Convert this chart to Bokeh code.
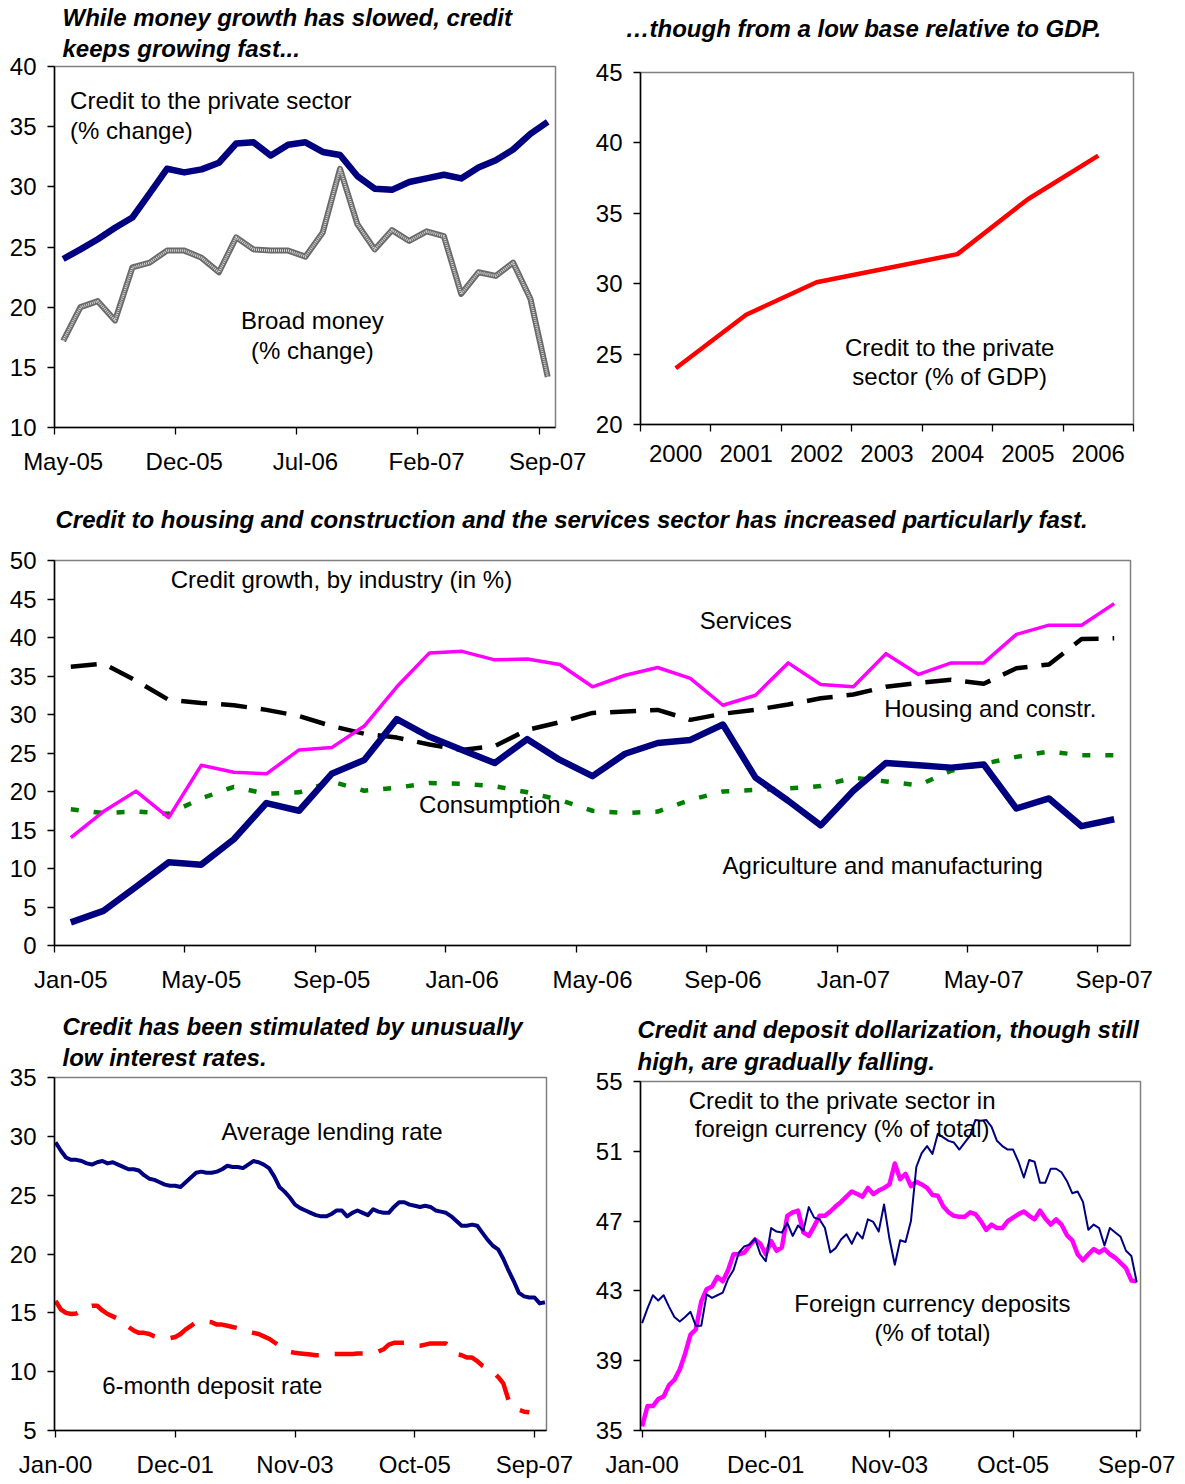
from bokeh.plotting import figure
from bokeh.layouts import column, row
from bokeh.models import FixedTicker, Label, Range1d, Title
from bokeh.embed import file_html
from bokeh.resources import INLINE

# ---------------- data ----------------
# Panel 1: monthly, May-05 .. Sep-07
p1_ticklabels = ["May-05", "Dec-05", "Jul-06", "Feb-07", "Sep-07"]
credit_growth = [24.0, 24.8, 25.65, 26.6, 27.45, 29.45, 31.5, 31.2, 31.45, 32.0, 33.6, 33.7, 32.6, 33.5,
                 33.7, 32.9, 32.65, 30.9, 29.85, 29.75, 30.4, 30.7, 31.0, 30.7, 31.6, 32.2, 33.1, 34.4, 35.4]
broad_money = [17.2, 20.0, 20.5, 18.9, 23.3, 23.7, 24.7, 24.7, 24.1, 22.9, 25.8, 24.8, 24.7, 24.7,
               24.2, 26.2, 31.5, 26.9, 24.8, 26.4, 25.5, 26.3, 25.9, 21.1, 22.9, 22.6, 23.7, 20.7, 14.2]

# Panel 2: annual
years = ["2000", "2001", "2002", "2003", "2004", "2005", "2006"]
credit_gdp = [24.0, 27.8, 30.1, 31.1, 32.1, 36.0, 39.1]

# Panel 3: monthly, Jan-05 .. Sep-07
p3_ticklabels = ["Jan-05", "May-05", "Sep-05", "Jan-06", "May-06", "Sep-06", "Jan-07", "May-07", "Sep-07"]
agri_manuf = [3.0, 4.5, 7.6, 10.8, 10.5, 13.8, 18.5, 17.5, 22.3, 24.1, 29.4, 27.1, 25.4, 23.7, 26.8, 24.1, 22.0,
              24.9, 26.3, 26.7, 28.7, 21.8, 18.8, 15.6, 20.1, 23.7, 23.4, 23.1, 23.5, 17.8, 19.1, 15.5, 16.4]
services = [14.0, 17.4, 20.05, 16.6, 23.4, 22.5, 22.3, 25.4, 25.7, 28.5, 33.6, 38.0, 38.2, 37.1, 37.2, 36.5, 33.6,
            35.1, 36.1, 34.7, 31.2, 32.5, 36.7, 33.9, 33.6, 37.9, 35.2, 36.7, 36.7, 40.4, 41.6, 41.6, 44.4]
housing = [36.2, 36.6, 34.4, 31.9, 31.5, 31.2, 30.6, 29.8, 28.5, 27.5, 27.0, 26.1, 25.4, 25.9, 28.0, 29.0, 30.2,
           30.4, 30.6, 29.3, 30.1, 30.6, 31.3, 32.1, 32.6, 33.6, 34.1, 34.5, 34.0, 36.0, 36.5, 39.8, 39.9]
consumption = [17.7, 17.2, 17.4, 17.1, 19.1, 20.6, 19.7, 19.9, 21.3, 20.1, 20.5, 21.1, 21.0, 20.7, 19.9, 18.9, 17.5,
               17.2, 17.4, 18.9, 20.0, 20.2, 20.4, 20.7, 21.8, 21.3, 20.8, 22.7, 23.6, 24.5, 25.2, 24.7, 24.7]

# Panel 5: monthly from Jan-00
p5_ticklabels = ["Jan-00", "Dec-01", "Nov-03", "Oct-05", "Sep-07"]
lending_rate = [29.5, 28.8, 28.2, 28.0, 28.0, 27.9, 27.7, 27.6, 27.8, 27.9,
                27.7, 27.8, 27.6, 27.4, 27.2, 27.2, 27.1, 26.7, 26.4, 26.3,
                26.1, 25.9, 25.8, 25.8, 25.7, 26.1, 26.5, 26.9, 27.0, 26.9,
                26.9, 27.0, 27.2, 27.5, 27.4, 27.4, 27.3, 27.6, 27.9, 27.8,
                27.6, 27.3, 26.6, 25.7, 25.3, 24.8, 24.2, 23.9, 23.7, 23.5,
                23.3, 23.2, 23.2, 23.4, 23.7, 23.7, 23.2, 23.5, 23.7, 23.5,
                23.3, 23.8, 23.6, 23.5, 23.5, 24.0, 24.4, 24.4, 24.2, 24.1,
                24.0, 24.1, 24.0, 23.7, 23.6, 23.5, 23.2, 22.8, 22.4, 22.4,
                22.5, 22.4, 21.8, 21.2, 20.7, 20.4, 19.6, 18.6, 17.7, 16.7,
                16.4, 16.3, 16.3, 15.8, 15.9]
deposit_rate = [16.0, 15.3, 15.0, 14.9, 14.95, 15.2, 15.5, 15.6, 15.6, 15.2,
                14.9, 14.7, 14.5, 14.2, 13.8, 13.5, 13.3, 13.3, 13.2, 13.0,
                12.9, 12.85, 12.85, 12.95, 13.2, 13.6, 13.9, 14.2, 14.25, 14.25,
                14.2, 14.0, 14.0, 13.9, 13.8, 13.7, 13.5, 13.4, 13.3, 13.2,
                13.0, 12.8, 12.5, 12.2, 11.9, 11.7, 11.6, 11.55, 11.5, 11.45,
                11.4, 11.4, 11.45, 11.5, 11.5, 11.5, 11.5, 11.5, 11.55, 11.55,
                11.6, 11.65, 11.7, 11.9, 12.3, 12.45, 12.45, 12.45, 12.3, 12.2,
                12.2, 12.3, 12.4, 12.4, 12.4, 12.4, 12.05, 11.5, 11.4, 11.2,
                11.2, 10.9, 10.5, 10.25, 10.0, 9.55, 9.0, 7.6, 7.0, 6.75,
                6.6, 6.55]

# Panel 6: monthly from Jan-00
p6_ticklabels = ["Jan-00", "Dec-01", "Nov-03", "Oct-05", "Sep-07"]
credit_fx = [41.15, 42.0, 42.75, 42.45, 42.75, 42.1, 41.5, 41.25, 41.5, 41.8,
             41.0, 41.0, 42.8, 42.6, 42.75, 42.9, 43.7, 44.2, 45.2, 45.55,
             45.65, 46.0, 45.1, 44.7, 46.6, 46.4, 46.35, 46.9, 46.15, 46.75,
             46.45, 47.8, 47.2, 47.1, 46.6, 45.2, 45.45, 45.95, 46.25, 45.7,
             46.35, 46.0, 47.1, 46.95, 46.4, 47.95, 46.0, 44.5, 45.9, 45.8,
             47.0, 50.1, 50.9, 51.3, 50.85, 52.0, 51.8, 51.6, 51.5, 51.1,
             51.5, 51.9, 52.8, 52.75, 52.8, 52.4, 51.6, 51.3, 51.1, 51.1,
             50.4, 49.5, 50.5, 50.4, 49.2, 49.2, 50.0, 50.0, 49.8, 49.3,
             48.6, 48.7, 48.1, 46.5, 46.8, 46.6, 45.6, 46.6, 46.35, 46.1,
             45.3, 45.0, 43.5]
deposits_fx = [35.24, 36.4, 36.4, 36.8, 36.95, 37.6, 37.9, 38.5, 39.4, 40.5,
               40.8, 42.4, 43.1, 43.25, 43.8, 43.55, 44.2, 45.1, 45.1, 45.2,
               45.6, 45.95, 45.7, 45.1, 45.85, 45.3, 45.5, 47.3, 47.5, 47.6,
               46.35, 46.15, 46.7, 47.3, 47.3, 47.55, 47.85, 48.1, 48.4, 48.7,
               48.55, 48.4, 48.9, 48.55, 48.75, 48.9, 49.1, 50.3, 49.4, 49.7,
               49.0, 49.25, 49.1, 48.9, 48.5, 48.45, 47.85, 47.5, 47.3, 47.25,
               47.25, 47.5, 47.4, 47.0, 46.5, 46.8, 46.6, 46.6, 47.0, 47.2,
               47.4, 47.55, 47.3, 47.1, 47.6, 47.15, 46.8, 47.1, 46.8, 46.2,
               45.9, 45.1, 44.75, 45.1, 45.4, 45.2, 45.4, 45.1, 44.9, 44.6,
               44.3, 43.6, 43.55]

# ---------------- styling helpers ----------------
FONT = "Liberation Sans"
FS = "24px"
NAVY = "#000080"
MAGENTA = "#FF00FF"


def make_fig(w, h, bl, br, bt, bb, xr, yr, yticks):
    p = figure(width=w, height=h, min_border_left=bl, min_border_right=br,
               min_border_top=bt, min_border_bottom=bb, x_range=Range1d(*xr), y_range=Range1d(*yr),
               output_backend="svg", toolbar_location=None, tools="")
    p.grid.visible = False
    p.outline_line_color = "#808080"
    p.outline_line_width = 1.5
    p.background_fill_color = "white"
    p.border_fill_color = "white"
    for ax in (p.xaxis[0], p.yaxis[0]):
        ax.axis_line_color = "black"
        ax.axis_line_width = 1.5
        ax.major_tick_line_color = "black"
        ax.major_tick_line_width = 1.3
        ax.major_tick_out = 7
        ax.major_tick_in = 0
        ax.minor_tick_in = 0
        ax.minor_tick_out = 0
        ax.major_label_text_font = FONT
        ax.major_label_text_font_size = FS
        ax.major_label_text_color = "black"
    p.yaxis[0].ticker = FixedTicker(ticks=yticks)
    p.yaxis[0].major_label_standoff = 11
    p.xaxis[0].major_label_standoff = 13
    return p


def category_xaxis(p, label_pos, tick_pos, labels):
    ax = p.xaxis[0]
    ax.ticker = FixedTicker(ticks=label_pos, minor_ticks=tick_pos)
    ax.major_tick_line_color = None
    ax.minor_tick_line_color = "black"
    ax.minor_tick_line_width = 1.3
    ax.minor_tick_out = 7
    ax.major_label_overrides = {pos: lab for pos, lab in zip(label_pos, labels)}


def date_xaxis(p, tick_pos, labels):
    ax = p.xaxis[0]
    ax.ticker = FixedTicker(ticks=tick_pos)
    ax.major_label_overrides = {pos: lab for pos, lab in zip(tick_pos, labels)}


def add_text(p, x, y, text, align="center"):
    p.add_layout(Label(x=x, y=y, text=text, text_font=FONT, text_font_size=FS,
                       text_align=align, text_baseline="middle", text_color="black"))


def add_titles(p, lines, offset, standoffs):
    # lines given top to bottom; the one nearest the frame is added first
    for text, so in reversed(list(zip(lines, standoffs))):
        p.add_layout(Title(text=text, align="left", offset=offset, standoff=so,
                           text_font=FONT, text_font_size=FS, text_font_style="bold italic",
                           text_color="black"), "above")


# ---------------- Panel 1 ----------------
n1 = len(credit_growth)
x1 = list(range(n1))
p1 = make_fig(592, 490, 54, 37, 66, 63, (-0.5, 28.45), (10, 40), [10, 15, 20, 25, 30, 35, 40])
lab1 = list(range(0, n1, 7))
category_xaxis(p1, lab1, [v - 0.5 for v in lab1], p1_ticklabels)
p1.line(x1, broad_money, line_color="#6a6a6a", line_width=6, line_join="round")
p1.line(x1, broad_money, line_color="#d8d8d8", line_width=2.5, line_dash="1 1", line_join="round")
p1.line(x1, credit_growth, line_color=NAVY, line_width=6.5, line_join="round")
add_text(p1, 0.4, 37.2, "Credit to the private sector", align="left")
add_text(p1, 0.4, 34.7, "(% change)", align="left")
add_text(p1, 14.4, 18.9, "Broad money")
add_text(p1, 14.4, 16.4, "(% change)")
add_titles(p1, ["While money growth has slowed, credit", "keeps growing fast..."], 8, [-5, 9])

# ---------------- Panel 2 ----------------
x2 = list(range(len(years)))
p2 = make_fig(590, 490, 48, 49, 72, 66, (-0.5, 6.5), (20, 45), [20, 25, 30, 35, 40, 45])
category_xaxis(p2, x2, [v - 0.5 for v in x2] + [len(years) - 0.5], years)
p2.line(x2, credit_gdp, line_color="#FF0000", line_width=4.5, line_join="round")
add_text(p2, 3.89, 25.5, "Credit to the private")
add_text(p2, 3.89, 23.4, "sector (% of GDP)")
add_titles(p2, ["\u2026though from a low base relative to GDP.", " "], -15, [0, 2])

# ---------------- Panel 3 ----------------
n3 = len(agri_manuf)
x3 = list(range(n3))
p3 = make_fig(1182, 515, 54, 52, 70, 60, (-0.5, 32.5), (0, 50), list(range(0, 51, 5)))
lab3 = list(range(0, n3, 4))
category_xaxis(p3, lab3, [v - 0.5 for v in lab3], p3_ticklabels)
p3.line(x3, consumption, line_color="#008000", line_width=4.5, line_dash="8 15")
p3.line(x3, housing, line_color="black", line_width=4.5, line_dash="26 14")
p3.line(x3, services, line_color=MAGENTA, line_width=3.5, line_join="round")
p3.line(x3, agri_manuf, line_color=NAVY, line_width=6.5, line_join="round")
add_text(p3, 8.3, 47.5, "Credit growth, by industry (in %)")
add_text(p3, 20.7, 42.2, "Services")
add_text(p3, 28.2, 30.8, "Housing and constr.")
add_text(p3, 12.85, 18.3, "Consumption")
add_text(p3, 24.9, 10.4, "Agriculture and manufacturing")
add_titles(p3, ["Credit to housing and construction and the services sector has increased particularly fast.", " "],
           1, [-2, 0])

# ---------------- Panel 5 ----------------
p5 = make_fig(592, 475, 54, 46, 72, 46, (-0.2, 94.3), (5, 35), [5, 10, 15, 20, 25, 30, 35])
date_xaxis(p5, [0, 23, 46, 69, 92], p5_ticklabels)
p5.line(list(range(len(deposit_rate))), deposit_rate, line_color="#FF0000", line_width=4.5, line_dash="28 16")
p5.line(list(range(len(lending_rate))), lending_rate, line_color=NAVY, line_width=4, line_join="round")
add_text(p5, 53.1, 30.4, "Average lending rate")
add_text(p5, 30.1, 8.8, "6-month deposit rate")
add_titles(p5, ["Credit has been stimulated by unusually", "low interest rates."], 8, [-9, 13])

# ---------------- Panel 6 ----------------
p6 = make_fig(590, 475, 44, 42, 76, 44, (-0.3, 92.7), (35, 55), [35, 39, 43, 47, 51, 55])
date_xaxis(p6, [0, 23, 46, 69, 92], p6_ticklabels)
p6.line(list(range(len(deposits_fx))), deposits_fx, line_color=MAGENTA, line_width=4.5, line_join="round")
p6.line(list(range(len(credit_fx))), credit_fx, line_color=NAVY, line_width=2, line_join="round")
add_text(p6, 37.2, 53.9, "Credit to the private sector in")
add_text(p6, 37.2, 52.3, "foreign currency (% of total)")
add_text(p6, 54.0, 42.3, "Foreign currency deposits")
add_text(p6, 54.0, 40.6, "(% of total)")
add_titles(p6, ["Credit and deposit dollarization, though still", "high, are gradually falling."], -3, [-7, 13])

layout = column(row(column(p1), column(p2)), p3, row(column(p5), column(p6)))
open("out.html", "w").write(file_html(layout, INLINE))
